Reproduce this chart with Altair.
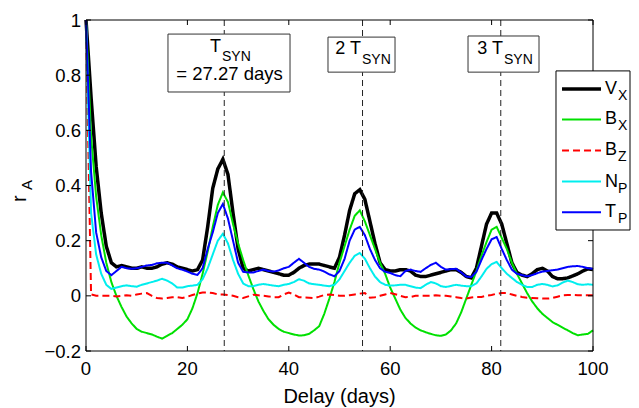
import altair as alt
import pandas as pd

# ---------------- data ----------------
days = list(range(101))

vx = [1.00, 0.72, 0.47, 0.30, 0.18, 0.12, 0.105, 0.11, 0.105, 0.10,
      0.10, 0.105, 0.10, 0.10, 0.105, 0.115, 0.12, 0.115, 0.105, 0.10,
      0.095, 0.09, 0.095, 0.13, 0.25, 0.39, 0.46, 0.495, 0.44, 0.30,
      0.17, 0.10, 0.09, 0.095, 0.10, 0.095, 0.09, 0.085, 0.08, 0.075,
      0.075, 0.085, 0.10, 0.11, 0.115, 0.115, 0.115, 0.11, 0.105, 0.10,
      0.14, 0.22, 0.31, 0.37, 0.385, 0.35, 0.27, 0.19, 0.12, 0.095,
      0.09, 0.09, 0.095, 0.095, 0.09, 0.075, 0.07, 0.07, 0.075, 0.08,
      0.085, 0.09, 0.095, 0.095, 0.085, 0.07, 0.065, 0.10, 0.18, 0.26,
      0.30, 0.30, 0.26, 0.19, 0.12, 0.085, 0.075, 0.07, 0.08, 0.095,
      0.10, 0.09, 0.07, 0.062, 0.062, 0.065, 0.072, 0.08, 0.09, 0.098,
      0.095]

bx = [1.00, 0.58, 0.36, 0.22, 0.12, 0.05, 0.0, -0.04, -0.075, -0.10,
      -0.12, -0.13, -0.135, -0.14, -0.148, -0.155, -0.145, -0.135, -0.12, -0.105,
      -0.085, -0.045, 0.01, 0.08, 0.16, 0.25, 0.33, 0.375, 0.34, 0.26,
      0.19, 0.13, 0.075, 0.025, -0.02, -0.055, -0.085, -0.105, -0.12, -0.13,
      -0.135, -0.14, -0.144, -0.143, -0.138, -0.125, -0.11, -0.065, -0.01, 0.05,
      0.12, 0.18, 0.24, 0.29, 0.31, 0.27, 0.22, 0.17, 0.12, 0.08,
      0.03, -0.01, -0.05, -0.08, -0.10, -0.115, -0.125, -0.132, -0.138, -0.143,
      -0.145, -0.14, -0.125, -0.10, -0.06, -0.01, 0.04, 0.09, 0.145, 0.195,
      0.24, 0.25, 0.21, 0.17, 0.12, 0.08, 0.045, 0.01, -0.02, -0.045,
      -0.065, -0.08, -0.095, -0.105, -0.115, -0.125, -0.135, -0.143, -0.14, -0.138,
      -0.125]

bz = [1.00, 0.005, 0.0, 0.0, 0.0, 0.0, -0.002, 0.0, 0.002, 0.0,
      0.005, 0.008, 0.01, 0.0, -0.008, -0.01, -0.008, -0.005, -0.005, -0.008,
      -0.003, 0.003, 0.008, 0.012, 0.012, 0.01, 0.005, 0.005, 0.003, 0.0,
      -0.005, -0.008, -0.002, 0.004, 0.002, 0.0, -0.002, -0.005, -0.005, 0.005,
      0.012, 0.005, -0.005, -0.006, -0.007, -0.008, -0.003, 0.003, 0.005, 0.003,
      0.0, 0.0, 0.002, 0.005, 0.008, 0.01, -0.007, -0.005, 0.0, 0.005,
      0.01, 0.006, 0.0, -0.005, -0.004, 0.0, 0.0, 0.0, 0.0, 0.002,
      0.0, 0.0, -0.002, -0.005, -0.008, -0.01, -0.006, -0.004, -0.004, 0.0,
      0.003, 0.008, 0.01, 0.01, 0.005, 0.0, -0.004, -0.007, -0.008, -0.009,
      -0.01, -0.01, -0.008, -0.003, 0.002, 0.003, 0.003, 0.002, 0.002, 0.002,
      0.002]

np_ = [1.00, 0.30, 0.15, 0.08, 0.04, 0.025, 0.03, 0.035, 0.038, 0.035,
       0.033, 0.04, 0.045, 0.05, 0.055, 0.062, 0.055, 0.045, 0.03, 0.03,
       0.035, 0.037, 0.04, 0.06, 0.10, 0.15, 0.20, 0.225, 0.19, 0.13,
       0.08, 0.045, 0.035, 0.035, 0.04, 0.043, 0.04, 0.037, 0.035, 0.04,
       0.043, 0.05, 0.06, 0.055, 0.045, 0.042, 0.04, 0.037, 0.035, 0.04,
       0.06, 0.09, 0.12, 0.145, 0.155, 0.135, 0.10, 0.07, 0.05, 0.04,
       0.037, 0.038, 0.04, 0.04, 0.035, 0.03, 0.028, 0.04, 0.05, 0.045,
       0.035, 0.032, 0.036, 0.04, 0.037, 0.035, 0.035, 0.045, 0.07, 0.098,
       0.115, 0.123, 0.10, 0.08, 0.065, 0.05, 0.04, 0.032, 0.032, 0.04,
       0.043, 0.04, 0.034, 0.038, 0.048, 0.055, 0.05, 0.042, 0.04, 0.042,
       0.04]

tp = [1.00, 0.45, 0.23, 0.14, 0.09, 0.075, 0.09, 0.105, 0.10, 0.098,
      0.10, 0.105, 0.11, 0.112, 0.118, 0.12, 0.12, 0.11, 0.10, 0.095,
      0.088, 0.08, 0.076, 0.10, 0.17, 0.23, 0.30, 0.333, 0.28, 0.20,
      0.12, 0.087, 0.085, 0.085, 0.09, 0.095, 0.09, 0.088, 0.092, 0.10,
      0.105, 0.12, 0.134, 0.12, 0.105, 0.098, 0.095, 0.088, 0.078, 0.071,
      0.09, 0.134, 0.20, 0.24, 0.25, 0.22, 0.17, 0.13, 0.10, 0.087,
      0.083, 0.075, 0.071, 0.09, 0.095, 0.09, 0.087, 0.10, 0.112, 0.12,
      0.105, 0.095, 0.097, 0.098, 0.085, 0.07, 0.068, 0.087, 0.13, 0.17,
      0.205, 0.213, 0.17, 0.13, 0.095, 0.08, 0.075, 0.071, 0.075, 0.082,
      0.088, 0.09, 0.093, 0.095, 0.10, 0.105, 0.107, 0.108, 0.105, 0.10,
      0.098]

series_values = [vx, bx, bz, np_, tp]
series_names = ["Vx", "Bx", "Bz", "Np", "Tp"]
legend_main = ["V", "B", "B", "N", "T"]
legend_sub = ["X", "X", "Z", "P", "P"]

x_ticks = [0, 20, 40, 60, 80, 100]
x_tick_labels = ["0", "20", "40", "60", "80", "100"]
y_ticks = [-0.2, 0, 0.2, 0.4, 0.6, 0.8, 1]
y_tick_labels = ["\u22120.2", "0", "0.2", "0.4", "0.6", "0.8", "1"]
x_title = ["Delay (days)"]
y_title_main = ["r"]
y_title_sub = ["A"]

t_syn = [27.27, 54.54, 81.81]
box_main = ["T", "2 T", "3 T"]
box_sub = ["SYN", "SYN", "SYN"]
box_extra = ["= 27.27 days"]

# annotation layout (data units)
box_x1 = [16.17, 47.73, 75.35]
box_x2 = [40.24, 60.95, 89.35]
box_y1 = [0.949, 0.938, 0.942]
box_y2 = [0.739, 0.811, 0.811]
box_tx = [26.63, 54.24, 82.25]
box_ty = [0.885, 0.877, 0.877]
box_sy = [0.853, 0.842, 0.842]
extra_x = [28.30]
extra_y = [0.783]

leg_x1, leg_x2, leg_y1, leg_y2 = 92.70, 107.30, 0.8154, 0.2387
leg_line_x1, leg_line_x2 = 93.89, 101.58
leg_label_x, leg_sub_x = 102.37, 104.93
leg_rows = [0.7499, 0.6393, 0.5269, 0.4145, 0.3028]

# ---------------- styles ----------------
colors = ["#000000", "#00e000", "#ff0000", "#00eeee", "#0000ff"]
widths = [3.5, 2, 2, 2, 2]
dashes = [[1, 0], [1, 0], [7, 4], [1, 0], [1, 0]]
FONT = "Liberation Sans"
W, H = 507, 331
FS = 18.5

xs = alt.Scale(domain=[0, 100], nice=False, zero=False)
ys = alt.Scale(domain=[-0.2, 1], nice=False, zero=False)


def X(f):
    return alt.X(f, type="quantitative", scale=xs, axis=None)


def Y(f):
    return alt.Y(f, type="quantitative", scale=ys, axis=None)


layers = []

# data series
for i, (name, vals) in enumerate(zip(series_names, series_values)):
    df = pd.DataFrame({"day": days, "r": vals})
    layers.append(
        alt.Chart(df).mark_line(color=colors[i], strokeWidth=widths[i],
                                strokeDash=dashes[i], strokeCap="butt")
        .encode(x=X("day"), y=Y("r"))
    )

# dashed T_SYN lines
layers.append(
    alt.Chart(pd.DataFrame({"t": t_syn})).mark_rule(color="#222", strokeWidth=1,
                                                     strokeDash=[6, 4])
    .encode(x=X("t"))
)

# frame
frame = pd.DataFrame({"x1": [0], "x2": [100], "y1": [-0.2], "y2": [1]})
layers.append(
    alt.Chart(frame).mark_rect(fill="white", fillOpacity=0, stroke="black", strokeWidth=1)
    .encode(x=X("x1"), x2="x2", y=Y("y1"), y2="y2")
)

# inward ticks
xt = pd.DataFrame({"v": x_ticks, "lab": x_tick_labels})
yt = pd.DataFrame({"v": y_ticks, "lab": y_tick_labels})
layers.append(alt.Chart(xt).mark_rule(color="black", strokeWidth=1)
              .encode(x=X("v"), y=alt.value(H), y2=alt.value(H - 5)))
layers.append(alt.Chart(xt).mark_rule(color="black", strokeWidth=1)
              .encode(x=X("v"), y=alt.value(0), y2=alt.value(5)))
layers.append(alt.Chart(yt).mark_rule(color="black", strokeWidth=1)
              .encode(y=Y("v"), x=alt.value(0), x2=alt.value(5)))
layers.append(alt.Chart(yt).mark_rule(color="black", strokeWidth=1)
              .encode(y=Y("v"), x=alt.value(W), x2=alt.value(W - 5)))

# tick labels
layers.append(alt.Chart(xt).mark_text(align="center", baseline="alphabetic", fontSize=FS,
                                      font=FONT, color="black")
              .encode(x=X("v"), y=alt.value(H + 24), text="lab:N"))
layers.append(alt.Chart(yt).mark_text(align="right", baseline="alphabetic", fontSize=FS,
                                      font=FONT, color="black", dy=6.5)
              .encode(x=alt.value(-5), y=Y("v"), text="lab:N"))

# axis titles
layers.append(alt.Chart(pd.DataFrame({"t": x_title})).mark_text(
    align="center", baseline="alphabetic", fontSize=20, font=FONT, color="black")
    .encode(x=alt.value(W / 2), y=alt.value(H + 52), text="t:N"))
layers.append(alt.Chart(pd.DataFrame({"t": y_title_main})).mark_text(
    align="left", baseline="alphabetic", angle=270, fontSize=20, font=FONT, color="black")
    .encode(x=alt.value(-60), y=alt.value(182), text="t:N"))
layers.append(alt.Chart(pd.DataFrame({"t": y_title_sub})).mark_text(
    align="left", baseline="alphabetic", angle=270, fontSize=15, font=FONT, color="black")
    .encode(x=alt.value(-54), y=alt.value(170), text="t:N"))

# annotation boxes
boxes = pd.DataFrame({"x1": box_x1, "x2": box_x2, "y1": box_y1, "y2": box_y2,
                      "tx": box_tx, "ty": box_ty, "sy": box_sy,
                      "main": box_main, "sub": box_sub})
layers.append(alt.Chart(boxes).mark_rect(fill="white", stroke="#333", strokeWidth=1)
              .encode(x=X("x1"), x2="x2", y=Y("y1"), y2="y2"))
layers.append(alt.Chart(boxes).mark_text(align="right", baseline="alphabetic",
                                         fontSize=18, font=FONT, color="black")
              .encode(x=X("tx"), y=Y("ty"), text="main:N"))
layers.append(alt.Chart(boxes).mark_text(align="left", baseline="alphabetic",
                                         fontSize=14, font=FONT, color="black", dx=1)
              .encode(x=X("tx"), y=Y("sy"), text="sub:N"))
extra = pd.DataFrame({"x": extra_x, "y": extra_y, "t": box_extra})
layers.append(alt.Chart(extra).mark_text(align="center", baseline="alphabetic",
                                         fontSize=FS, font=FONT, color="black")
              .encode(x=X("x"), y=Y("y"), text="t:N"))

# legend
legbox = pd.DataFrame({"x1": [leg_x1], "x2": [leg_x2], "y1": [leg_y1], "y2": [leg_y2]})
layers.append(alt.Chart(legbox).mark_rect(fill="white", stroke="black", strokeWidth=1)
              .encode(x=X("x1"), x2="x2", y=Y("y1"), y2="y2"))
for i in range(len(series_names)):
    row = pd.DataFrame({"x1": [leg_line_x1], "x2": [leg_line_x2], "y": [leg_rows[i]]})
    layers.append(alt.Chart(row).mark_rule(color=colors[i], strokeWidth=widths[i],
                                           strokeDash=dashes[i], strokeCap="butt")
                  .encode(x=X("x1"), x2="x2", y=Y("y")))
leg = pd.DataFrame({"y": leg_rows, "main": legend_main, "sub": legend_sub,
                    "lx": [leg_label_x] * 5, "sx": [leg_sub_x] * 5})
layers.append(alt.Chart(leg).mark_text(align="left", baseline="alphabetic", fontSize=18,
                                       font=FONT, color="black", dy=5)
              .encode(x=X("lx"), y=Y("y"), text="main:N"))
layers.append(alt.Chart(leg).mark_text(align="left", baseline="alphabetic", fontSize=14,
                                       font=FONT, color="black", dy=11)
              .encode(x=X("sx"), y=Y("y"), text="sub:N"))

chart = alt.layer(*layers).properties(
    width=W, height=H,
    autosize=alt.AutoSizeParams(type="none"),
    padding={"left": 78, "top": 12, "right": 38, "bottom": 56},
).configure_view(strokeWidth=0)

chart.save("out.html", embed_options={"renderer": "svg", "actions": False})
